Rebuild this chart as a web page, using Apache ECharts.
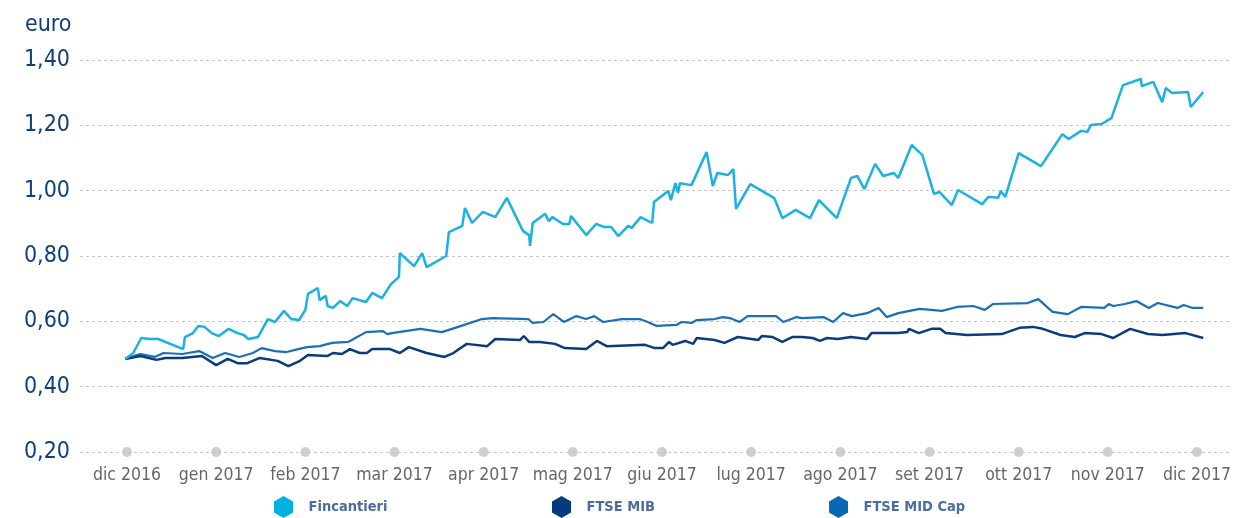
<!DOCTYPE html>
<html>
<head>
<meta charset="utf-8">
<script src="https://cdn.jsdelivr.net/npm/echarts@6/dist/echarts.min.js"></script>
<style>
html,body{margin:0;padding:0;background:#fff;}
#chart{width:1237px;height:518px;}
</style>
</head>
<body>
<div id="chart"></div>
<script>
// ---- data (x = months since dic 2016, y = euro) ----
const monthLabels = ['dic 2016','gen 2017','feb 2017','mar 2017','apr 2017','mag 2017','giu 2017','lug 2017','ago 2017','set 2017','ott 2017','nov 2017','dic 2017'];
const monthTicks = [0,1,2,3,4,5,6,7,8,9,10,11,12];
const yTicks = [0.2,0.4,0.6,0.8,1.0,1.2,1.4];
const seriesNames = ['Fincantieri','FTSE MIB','FTSE MID Cap'];

const finMonth = [-0.02,0.07,0.16,0.26,0.35,0.63,0.65,0.74,0.80,0.87,0.95,1.03,1.14,1.24,1.31,1.36,1.47,1.58,1.66,1.76,1.84,1.93,2.00,2.03,2.14,2.16,2.23,2.25,2.31,2.39,2.47,2.53,2.68,2.75,2.86,2.96,3.05,3.06,3.22,3.31,3.36,3.58,3.61,3.76,3.79,3.87,3.99,4.13,4.26,4.44,4.51,4.52,4.55,4.69,4.73,4.77,4.89,4.96,4.98,5.15,5.26,5.35,5.43,5.51,5.62,5.66,5.76,5.89,5.91,6.07,6.10,6.15,6.18,6.20,6.33,6.50,6.57,6.62,6.74,6.80,6.83,6.99,7.26,7.35,7.50,7.66,7.76,7.96,8.12,8.19,8.27,8.39,8.48,8.60,8.65,8.80,8.92,9.05,9.11,9.25,9.32,9.59,9.66,9.77,9.80,9.85,10.00,10.25,10.49,10.56,10.70,10.77,10.81,10.93,11.04,11.17,11.37,11.38,11.51,11.61,11.65,11.72,11.90,11.93,12.07];
const finValue = [0.485,0.503,0.549,0.546,0.546,0.515,0.552,0.564,0.586,0.583,0.564,0.555,0.577,0.564,0.558,0.546,0.552,0.607,0.598,0.632,0.607,0.604,0.635,0.684,0.702,0.665,0.678,0.647,0.641,0.662,0.647,0.671,0.659,0.687,0.671,0.714,0.736,0.809,0.769,0.809,0.766,0.800,0.873,0.892,0.947,0.901,0.935,0.919,0.978,0.877,0.864,0.831,0.901,0.929,0.907,0.919,0.898,0.898,0.922,0.864,0.898,0.889,0.889,0.861,0.892,0.886,0.919,0.901,0.965,0.999,0.971,1.023,0.993,1.023,1.017,1.118,1.014,1.054,1.048,1.066,0.944,1.020,0.977,0.916,0.941,0.916,0.971,0.916,1.039,1.045,1.005,1.082,1.045,1.054,1.039,1.140,1.109,0.990,0.996,0.956,1.002,0.959,0.981,0.978,0.999,0.981,1.115,1.075,1.173,1.158,1.183,1.180,1.201,1.204,1.222,1.323,1.342,1.320,1.333,1.271,1.314,1.299,1.302,1.256,1.302];

const mibMonth = [-0.02,0.15,0.33,0.43,0.62,0.84,1.00,1.13,1.24,1.35,1.49,1.69,1.81,1.94,2.03,2.25,2.31,2.41,2.50,2.61,2.69,2.75,2.95,3.06,3.16,3.36,3.56,3.66,3.81,4.04,4.13,4.41,4.45,4.51,4.63,4.80,4.91,5.15,5.27,5.38,5.81,5.92,6.01,6.08,6.12,6.26,6.35,6.39,6.59,6.70,6.85,7.08,7.12,7.24,7.35,7.46,7.57,7.69,7.77,7.85,7.97,8.12,8.30,8.35,8.65,8.75,8.77,8.88,9.02,9.12,9.18,9.42,9.81,10.01,10.16,10.27,10.47,10.63,10.74,10.93,11.06,11.25,11.45,11.61,11.87,12.07];
const mibValue = [0.485,0.494,0.482,0.488,0.488,0.494,0.466,0.485,0.472,0.472,0.488,0.479,0.463,0.479,0.497,0.494,0.503,0.500,0.515,0.503,0.503,0.515,0.515,0.503,0.521,0.503,0.491,0.503,0.531,0.524,0.546,0.543,0.555,0.537,0.537,0.531,0.518,0.515,0.540,0.524,0.528,0.518,0.518,0.537,0.528,0.540,0.531,0.549,0.543,0.534,0.552,0.543,0.555,0.552,0.537,0.552,0.552,0.549,0.540,0.549,0.546,0.552,0.546,0.564,0.564,0.567,0.577,0.564,0.577,0.577,0.564,0.558,0.561,0.580,0.583,0.577,0.558,0.552,0.564,0.561,0.549,0.577,0.561,0.558,0.564,0.549];

const midMonth = [-0.02,0.15,0.31,0.41,0.62,0.81,0.96,1.10,1.26,1.41,1.51,1.66,1.79,1.92,2.02,2.16,2.30,2.48,2.68,2.87,2.92,2.97,2.99,3.29,3.53,3.68,3.98,4.10,4.50,4.55,4.67,4.78,4.90,5.04,5.15,5.24,5.34,5.55,5.75,5.84,5.94,6.16,6.22,6.33,6.39,6.59,6.68,6.76,6.87,6.96,7.28,7.36,7.51,7.57,7.81,7.92,8.03,8.13,8.30,8.43,8.52,8.65,8.89,9.14,9.31,9.49,9.62,9.71,10.10,10.22,10.38,10.55,10.70,10.96,11.01,11.06,11.19,11.32,11.46,11.56,11.78,11.85,11.95,12.07];
const midValue = [0.485,0.500,0.491,0.503,0.500,0.509,0.488,0.503,0.491,0.503,0.518,0.509,0.506,0.515,0.521,0.524,0.534,0.537,0.567,0.570,0.561,0.564,0.570,0.577,0.567,0.580,0.607,0.610,0.607,0.595,0.598,0.622,0.598,0.616,0.607,0.616,0.598,0.607,0.607,0.598,0.586,0.589,0.598,0.595,0.604,0.607,0.613,0.610,0.598,0.616,0.616,0.598,0.613,0.610,0.613,0.598,0.625,0.616,0.625,0.641,0.613,0.625,0.638,0.632,0.644,0.647,0.635,0.653,0.656,0.668,0.629,0.622,0.644,0.641,0.653,0.647,0.653,0.662,0.641,0.656,0.641,0.650,0.641,0.641];

// ---- styling ----
const NARROW = "'DejaVu Sans Condensed','Liberation Sans Narrow',sans-serif";
const colFin = '#1bb1e2', colMib = '#0b3b7a', colMid = '#1b6fb9';
const hexIcon = 'path://M10,0 L20,5.77 L20,17.32 L10,23.09 L0,17.32 L0,5.77 Z';
const yMin = yTicks[0], yMax = yTicks[yTicks.length - 1];

const pairs = (xs, ys) => xs.map((x, i) => [x, ys[i]]);

function legendAt(name, left) {
  return {
    data: [name], left: left, top: 496, padding: 0,
    icon: hexIcon, itemWidth: 40, itemHeight: 22, symbolKeepAspect: true,
    selectedMode: false,
    textStyle: { fontFamily: NARROW, fontWeight: 'bold', fontSize: 14.5, color: '#4a6d9e' }
  };
}

const chart = echarts.init(document.getElementById('chart'), null, { renderer: 'canvas' });
chart.setOption({
  animation: false,
  backgroundColor: '#fff',
  title: { text: 'euro', left: 25, top: 14, padding: 0,
    textStyle: { fontFamily: NARROW, fontWeight: 'normal', fontSize: 23, color: '#0e3f7d' } },
  legend: [legendAt(seriesNames[0], 274), legendAt(seriesNames[1], 552), legendAt(seriesNames[2], 829)],
  grid: { left: 80, right: 7, top: 60, bottom: 66, containLabel: false },
  xAxis: {
    type: 'value', min: -0.527, max: 12.37,
    axisLine: { show: false }, axisTick: { show: false }, splitLine: { show: false },
    axisLabel: {
      customValues: monthTicks, margin: 14,
      fontFamily: NARROW, fontSize: 17.5, color: '#666',
      formatter: v => monthLabels[Math.round(v)]
    }
  },
  yAxis: {
    type: 'value', min: yMin, max: yMax, interval: 0.2,
    axisLine: { show: false }, axisTick: { show: false },
    axisLabel: { margin: 10, fontFamily: NARROW, fontSize: 23, color: '#0e3f7d',
      formatter: v => v.toFixed(2).replace('.', ',') },
    splitLine: { show: true, lineStyle: { color: '#c6c6c6', type: [3, 3], width: 1 } }
  },
  series: [
    { name: 'ticks', type: 'scatter', data: monthTicks.map(m => [m, yMin]), symbolSize: 10,
      itemStyle: { color: '#c3c3c3' }, silent: true, z: 1, clip: false },
    { name: seriesNames[2], type: 'line', data: pairs(midMonth, midValue), showSymbol: false,
      lineStyle: { color: colMid, width: 2.2 }, itemStyle: { color: '#0868b4' }, z: 2 },
    { name: seriesNames[1], type: 'line', data: pairs(mibMonth, mibValue), showSymbol: false,
      lineStyle: { color: colMib, width: 2.5 }, itemStyle: { color: '#033b80' }, z: 3 },
    { name: seriesNames[0], type: 'line', data: pairs(finMonth, finValue), showSymbol: false,
      lineStyle: { color: colFin, width: 2.5 }, itemStyle: { color: '#00b0e1' }, z: 4 }
  ]
});
</script>
</body>
</html>
